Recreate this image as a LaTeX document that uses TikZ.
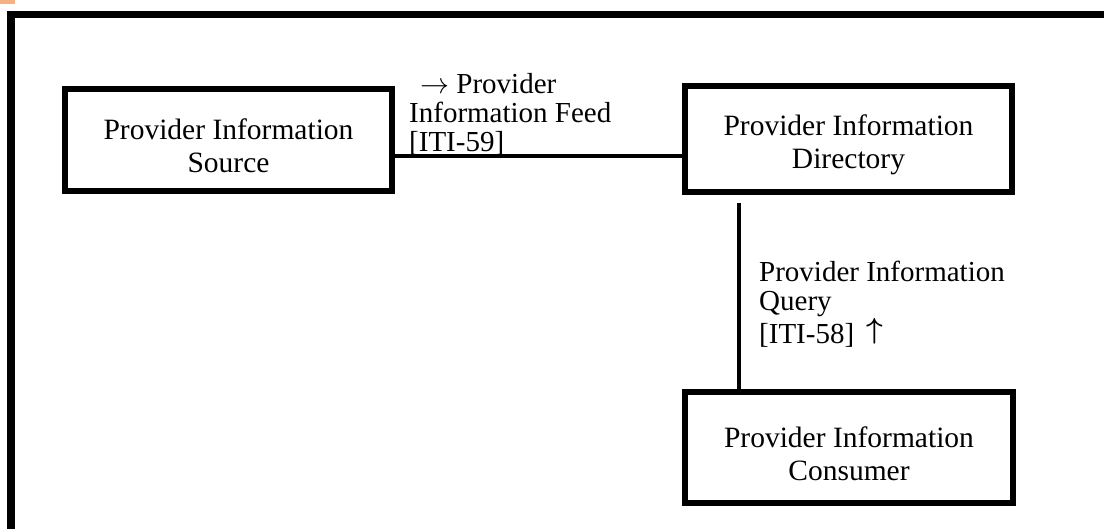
\RequirePackage{fix-cm}
\documentclass[tikz,border=0pt]{standalone}
\usepackage{fontspec}
\usepackage{bm}
\usepackage{graphicx}
\setmainfont{Liberation Serif}
\definecolor{cornerorange}{RGB}{244,177,131}
\begin{document}
\begin{tikzpicture}[x=1pt,y=-1pt,
  actor/.style={draw=black,line width=6pt,inner sep=0pt},
  actortext/.style={inner sep=0pt,align=center,yshift=-6pt,
    font=\fontsize{29.5}{33}\selectfont},
  lbl/.style={inner sep=0pt,align=left,anchor=north west,
    font=\fontsize{29}{29.3}\selectfont},
  conn/.style={draw=black,line width=4pt}]
\useasboundingbox (0,0) rectangle (1104,529);
% frame
\fill[cornerorange] (0,0) rectangle (15,4);
\fill[black] (7,11) rectangle (1104,18);
\fill[black] (7,11) rectangle (15,529);
% actors
\node[actor,minimum width=327pt,minimum height=102pt,
  label={[actortext]center:Provider Information\\Source}] (src) at (228.5,140) {};
\node[actor,minimum width=327pt,minimum height=106pt,
  label={[actortext]center:Provider Information\\Directory}] (dir) at (848.5,139) {};
\node[actor,minimum width=328pt,minimum height=111pt,
  label={[actortext]center:Provider Information\\Consumer}] (con) at (849,447.5) {};
% connectors
\coordinate (h) at (0,156);
\draw[conn] (src.east |- h) -- (dir.west |- h);
\coordinate (vtop) at (738.5,203);
\draw[conn] (vtop) -- (vtop |- con.north);
% labels
\node[lbl] (feed) at (409,73) {\hspace*{11pt}$\rightarrow$ Provider\\Information Feed\\{}[ITI-59]};
\node[lbl] (query) at (759,261) {Provider Information\\Query\\{}[ITI-58]\hspace{0.42em}\raisebox{0.17em}{$\bm{\uparrow}$}};
\end{tikzpicture}
\end{document}
